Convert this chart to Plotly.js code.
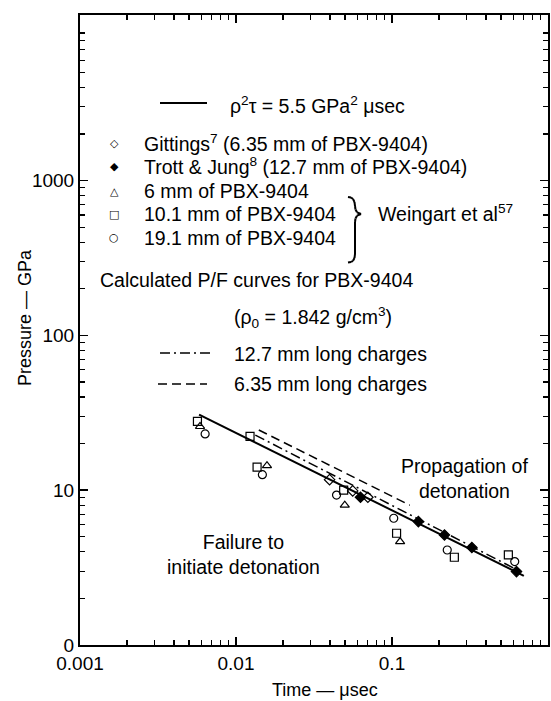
<!DOCTYPE html>
<html><head><meta charset="utf-8">
<script src="https://cdn.plot.ly/plotly-3.0.1.min.js"></script>
<style>html,body{margin:0;padding:0;background:#fff}</style>
</head><body>
<div id="chart" style="width:551px;height:701px"></div>
<script>
// ---- data ----
const lawTime = [0.0058, 0.70];          // rho^2 tau = 5.5 GPa^2 usec line, end points
const lawPressure = [30.8, 2.80];
const calc127Time = [0.0133, 0.65];      // calculated P/F, 12.7 mm long charges
const calc127Pressure = [22.7, 3.02];
const calc635Time = [0.014, 0.13];       // calculated P/F, 6.35 mm long charges
const calc635Pressure = [24.5, 8.0];
const gittingsTime = [0.0398, 0.056, 0.070];
const gittingsPressure = [11.7, 9.9, 9.0];
const trottTime = [0.0628, 0.1476, 0.217, 0.325, 0.628];
const trottPressure = [9.0, 6.27, 5.14, 4.26, 2.98];
const w6Time = [0.00588, 0.0158, 0.0498, 0.1127];
const w6Pressure = [25.8, 14.4, 8.0, 4.66];
const w101Time = [0.00566, 0.0123, 0.01365, 0.049, 0.107, 0.251, 0.557];
const w101Pressure = [27.8, 22.3, 14.1, 10.0, 5.27, 3.69, 3.82];
const w191Time = [0.00634, 0.01476, 0.0441, 0.1026, 0.226, 0.612];
const w191Pressure = [23.1, 12.6, 9.3, 6.59, 4.11, 3.46];
const xTickVals = [0.001, 0.01, 0.1, 1];
const xTickText = ["0.001", "0.01", "0.1", "1"];
const yTickVals = [1, 10, 100, 1000];
const yTickText = ["0", "10", "100", "1000"];

// ---- layout helpers (pixel -> paper) ----
const L = 80, R = 548, T = 15, B = 645;
const px = x => (x - L) / (R - L);
const py = y => (B - y) / (B - T);
const FONT = "Liberation Sans, Arial, sans-serif";

function minorVals(lo, hi) {
  const v = [];
  for (let e = lo; e < hi; e++) for (let k = 2; k <= 9; k++) v.push(k * Math.pow(10, e));
  return v;
}

const mk = (x, y, sym, name) => ({
  x, y, type: 'scatter', mode: 'markers', name,
  marker: {symbol: sym, size: 8, color: '#000', line: {color: '#000', width: 1.2}},
  cliponaxis: false
});

const traces = [
  {x: lawTime, y: lawPressure, type: 'scatter', mode: 'lines', line: {color: '#000', width: 2}},
  {x: calc127Time, y: calc127Pressure, type: 'scatter', mode: 'lines', line: {color: '#000', width: 1.5, dash: '10px,4px,2px,4px'}},
  {x: calc635Time, y: calc635Pressure, type: 'scatter', mode: 'lines', line: {color: '#000', width: 1.5, dash: '9px,5px'}},
  mk(gittingsTime, gittingsPressure, 'diamond-open', 'Gittings'),
  mk(trottTime, trottPressure, 'diamond', 'Trott & Jung'),
  mk(w6Time, w6Pressure, 'triangle-up-open', '6 mm'),
  mk(w101Time, w101Pressure, 'square-open', '10.1 mm'),
  mk(w191Time, w191Pressure, 'circle-open', '19.1 mm')
];

function ann(text, x, y, o) {
  return Object.assign({
    text, xref: 'paper', yref: 'paper', x: px(x), y: py(y),
    xanchor: 'left', yanchor: 'middle', showarrow: false,
    font: {family: FONT, size: 19.5, color: '#000'}
  }, o || {});
}
const symFont = {family: 'DejaVu Sans', size: 11, color: '#000'};
const titleFont = {family: FONT, size: 18, color: '#000'};
const annotations = [
  ann('ρ<sup>2</sup>τ = 5.5 GPa<sup>2</sup> μsec', 228, 105),
  ann('◇', 114, 143, {xanchor: 'center', font: symFont}),
  ann('Gittings<sup>7</sup> (6.35 mm of PBX-9404)', 142, 143),
  ann('◆', 114, 166, {xanchor: 'center', font: symFont}),
  ann('Trott &amp; Jung<sup>8</sup> (12.7 mm of PBX-9404)', 142, 166),
  ann('△', 114, 191, {xanchor: 'center', font: symFont}),
  ann('6 mm of PBX-9404', 142, 191),
  ann('□', 114, 214, {xanchor: 'center', font: symFont}),
  ann('10.1 mm of PBX-9404', 142, 214),
  ann('○', 114, 238, {xanchor: 'center', font: symFont}),
  ann('19.1 mm of PBX-9404', 142, 238),
  ann('Weingart et al<sup>57</sup>', 376, 213),
  ann('Calculated P/F curves for PBX-9404', 98, 280),
  ann('(ρ<sub>0</sub> = 1.842 g/cm<sup>3</sup>)', 232, 317),
  ann('12.7 mm long charges', 232, 354),
  ann('6.35 mm long charges', 232, 384),
  ann('Propagation of<br>detonation', 464, 478, {xanchor: 'center'}),
  ann('Failure to<br>initiate detonation', 243, 554, {xanchor: 'center'}),
  ann('Time — μsec', 325, 690, {xanchor: 'center', font: titleFont}),
  ann('Pressure — GPa', 25, 318, {xanchor: 'center', textangle: -90, font: titleFont})
];

// brace "}" built from short straight segments (pixel positions -> paper)
const bracePts = [[348,197],[351,197.5],[353,199],[354.5,202],[355,206],[355.5,209.5],[357,212.3],[361,214],
                  [357,215.7],[355.5,218.5],[355,222],[355,254],[354.5,258],[353,260.8],[351,262],[348,262.5]];
const braceShapes = [];
for (let i = 0; i < bracePts.length - 1; i++) {
  const a = bracePts[i], b = bracePts[i + 1];
  braceShapes.push({type: 'line', xref: 'paper', yref: 'paper',
    x0: px(a[0]), y0: py(a[1]), x1: px(b[0]), y1: py(b[1]), line: {color: '#000', width: 2}});
}

const shapes = [
  {type: 'line', xref: 'paper', yref: 'paper', x0: px(160), x1: px(207), y0: py(103), y1: py(103), line: {color: '#000', width: 2}},
  {type: 'line', xref: 'paper', yref: 'paper', x0: px(160), x1: px(211), y0: py(353), y1: py(353), line: {color: '#000', width: 1.5, dash: '10px,4px,2px,4px'}},
  {type: 'line', xref: 'paper', yref: 'paper', x0: px(158), x1: px(207), y0: py(384), y1: py(384), line: {color: '#000', width: 1.5, dash: '9px,5px'}}
].concat(braceShapes);

const axisCommon = {
  type: 'log', showgrid: false, zeroline: false, showline: true, mirror: 'ticks',
  linecolor: '#000', linewidth: 2, ticks: 'inside', ticklen: 8, tickwidth: 1.5, tickcolor: '#000',
  tickmode: 'array', tickfont: {family: FONT, size: 19, color: '#000'}
};

const layout = {
  width: 551, height: 701,
  margin: {l: L, r: 551 - R, t: T, b: 701 - B},
  paper_bgcolor: '#fff', plot_bgcolor: '#fff', showlegend: false,
  xaxis: Object.assign({}, axisCommon, {
    range: [-3, 0], tickvals: xTickVals, ticktext: xTickText,
    minor: {tickmode: 'array', tickvals: minorVals(-3, 0), ticks: 'inside', ticklen: 5, tickwidth: 1.2, tickcolor: '#000', showgrid: false}
  }),
  yaxis: Object.assign({}, axisCommon, {
    range: [0, 4.07], tickvals: yTickVals, ticktext: yTickText,
    minor: {tickmode: 'array', tickvals: minorVals(0, 5), ticks: 'inside', ticklen: 5, tickwidth: 1.2, tickcolor: '#000', showgrid: false}
  }),
  annotations, shapes
};

Plotly.newPlot('chart', traces, layout, {staticPlot: true, displayModeBar: false});
</script>
</body></html>
